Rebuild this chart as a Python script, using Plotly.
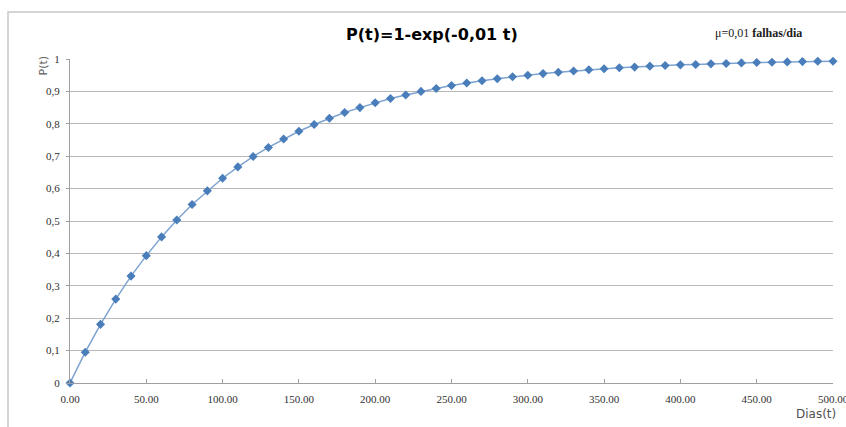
import plotly.graph_objects as go

dias = [0, 10, 20, 30, 40, 50, 60, 70, 80, 90, 100, 110, 120, 130, 140, 150, 160, 170, 180, 190,
        200, 210, 220, 230, 240, 250, 260, 270, 280, 290, 300, 310, 320, 330, 340, 350, 360, 370,
        380, 390, 400, 410, 420, 430, 440, 450, 460, 470, 480, 490, 500]
prob = [0.000, 0.095, 0.181, 0.259, 0.330, 0.393, 0.451, 0.503, 0.551, 0.593, 0.632, 0.667,
        0.699, 0.727, 0.753, 0.777, 0.798, 0.817, 0.835, 0.850, 0.865, 0.878, 0.889, 0.900,
        0.909, 0.918, 0.926, 0.933, 0.939, 0.945, 0.950, 0.955, 0.959, 0.963, 0.967, 0.970,
        0.973, 0.975, 0.978, 0.980, 0.982, 0.983, 0.985, 0.986, 0.988, 0.989, 0.990, 0.991,
        0.992, 0.993, 0.993]
x_ticks = [0, 50, 100, 150, 200, 250, 300, 350, 400, 450, 500]
x_labels = ["0.00", "50.00", "100.00", "150.00", "200.00", "250.00", "300.00", "350.00",
            "400.00", "450.00", "500.00"]
y_ticks = [0, 0.1, 0.2, 0.3, 0.4, 0.5, 0.6, 0.7, 0.8, 0.9, 1]
y_labels = ["0", "0,1", "0,2", "0,3", "0,4", "0,5", "0,6", "0,7", "0,8", "0,9", "1"]

W, H = 846, 427
L, R, T, B = 70, 13, 59, 44
pw, ph = W - L - R, H - T - B

def px_x(p):
    return (p - L) / pw

def px_y(p):
    return (H - B - p) / ph

fig = go.Figure()
fig.add_trace(go.Scatter(
    x=dias, y=prob, mode="lines+markers",
    line=dict(color="#7EA3D0", width=1.5),
    marker=dict(symbol="diamond", size=7, color="#4A7EBB"),
    cliponaxis=False, showlegend=False,
))

tick_font = dict(family="Liberation Serif", size=11, color="#303030")
fig.update_layout(
    width=W, height=H,
    margin=dict(l=L, r=R, t=T, b=B),
    paper_bgcolor="white", plot_bgcolor="white",
    xaxis=dict(range=[0, 500], tickvals=x_ticks, ticktext=x_labels, showgrid=False,
               showline=True, linecolor="#A0A0A0", linewidth=1, ticks="inside", ticklen=4,
               tickcolor="#A0A0A0", tickfont=tick_font, zeroline=False,
               ticklabeloverflow="allow", ticklabelstandoff=6, automargin=False),
    yaxis=dict(range=[0, 1], tickvals=y_ticks, ticktext=y_labels, showgrid=True,
               gridcolor="#B8B8B8", gridwidth=1, showline=True, linecolor="#A0A0A0",
               ticks="outside", ticklen=3, tickcolor="#A0A0A0", tickfont=tick_font,
               zeroline=False, ticklabelstandoff=4, automargin=False),
    shapes=[dict(type="rect", xref="paper", yref="paper",
                 x0=px_x(8), x1=px_x(900), y0=px_y(500), y1=px_y(12),
                 line=dict(color="#C8C8C8", width=1.5), fillcolor="rgba(0,0,0,0)",
                 layer="below")],
    annotations=[
        dict(text="<b>P(t)=1-exp(-0,01 t)</b>", xref="paper", yref="paper",
             x=px_x(432), y=px_y(34), yanchor="middle", showarrow=False,
             font=dict(family="DejaVu Sans", size=16, color="black")),
        dict(text="μ=0,01 <b>falhas/dia</b>", xref="paper", yref="paper", xanchor="left",
             x=px_x(713), y=px_y(33), yanchor="middle", showarrow=False,
             font=dict(family="Liberation Serif", size=12, color="#202020")),
        dict(text="P(t)", xref="paper", yref="paper", textangle=-90,
             x=px_x(34), y=px_y(66), yanchor="middle", showarrow=False,
             font=dict(family="DejaVu Sans", size=11, color="#606060")),
        dict(text="Dias(t)", xref="paper", yref="paper", xanchor="right",
             x=px_x(838), y=px_y(414), yanchor="middle", showarrow=False,
             font=dict(family="DejaVu Sans", size=12, color="#505050")),
    ],
)

fig.write_html("out.html")
